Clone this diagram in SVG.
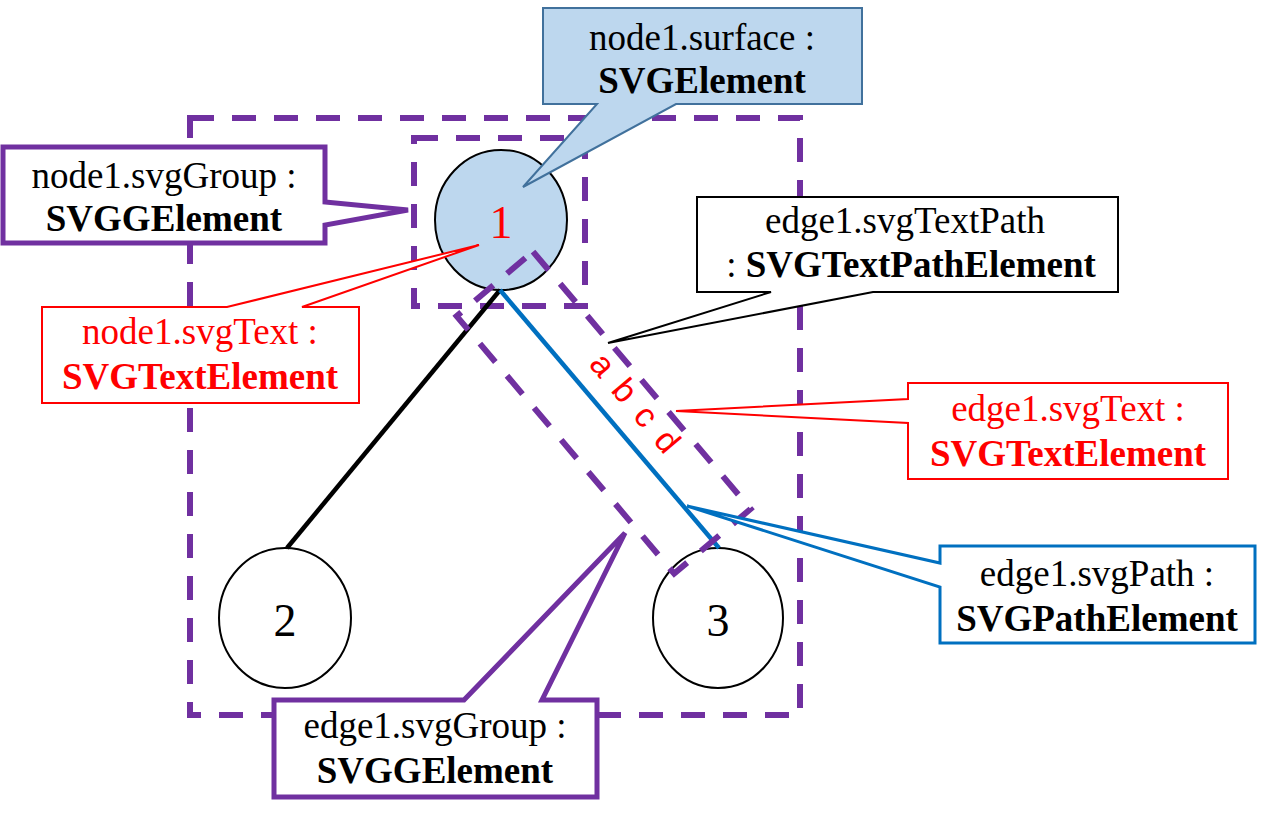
<svg xmlns="http://www.w3.org/2000/svg" width="1263" height="816" viewBox="0 0 1263 816">
<style>
.grp{fill:none;stroke:#7030A0;stroke-width:6;stroke-dasharray:24 18}
.node{stroke:#000;stroke-width:2}
.lbl{font-family:"Liberation Serif","Times New Roman",serif;font-size:37px;text-anchor:middle}
.num{font-family:"Liberation Serif","Times New Roman",serif;font-size:46px;text-anchor:middle}
.b{font-weight:bold}
.red{fill:#FF0000}
.blk{fill:#000}
</style>
<rect width="1263" height="816" fill="#fff"/>
<g id="groups">
<rect id="outerGroup" class="grp" x="190" y="118" width="610" height="597"/>
<rect id="node1Group" class="grp" x="414" y="138" width="171" height="168"/>
</g>
<g id="node1">
<ellipse class="node" cx="501" cy="220" rx="66" ry="70" fill="#BDD7EE"/>
<text class="num red" x="501" y="238">1</text>
</g>
<g id="node2">
<ellipse class="node" cx="285" cy="618" rx="66" ry="70" fill="#fff"/>
<text class="num blk" x="285" y="636">2</text>
</g>
<g id="node3">
<ellipse class="node" cx="718" cy="618" rx="65" ry="70" fill="#fff"/>
<text class="num blk" x="718" y="636">3</text>
</g>
<g id="connectors">
<line x1="500" y1="290" x2="287" y2="548" stroke="#000" stroke-width="4.5"/>
<line x1="500" y1="290" x2="719" y2="548" stroke="#0070C0" stroke-width="4.5"/>
</g>
<g id="edge1Group">
<rect class="grp" x="-8" y="-50" width="337" height="100" transform="translate(500,290) rotate(49.8)"/>
<text transform="translate(500,290) rotate(49.8)" x="114" y="-19" font-family="'Liberation Sans',Arial,sans-serif" font-size="34" letter-spacing="2.8" fill="#FF0000">a b c d</text>
</g>
<g id="callout-surface">
<path d="M543,8 H862 V104 H676 L523,187 L597,104 H543 Z" fill="#BDD7EE" stroke="#41719C" stroke-width="2"/>
<text class="lbl blk" x="702" y="50">node1.surface :</text>
<text class="lbl blk b" x="702" y="93">SVGElement</text>
</g>
<g id="callout-node1-svgGroup">
<path d="M3,147 H325 V202 L408,210 L325,225 V243 H3 Z" fill="#fff" stroke="#7030A0" stroke-width="5"/>
<text class="lbl blk" x="164" y="188">node1.svgGroup :</text>
<text class="lbl blk b" x="164" y="231">SVGGElement</text>
</g>
<g id="callout-node1-svgText">
<path d="M42,307 H227 L479,245 L302,307 H359 V403 H42 Z" fill="#fff" stroke="#FF0000" stroke-width="2"/>
<text class="lbl red" x="200" y="344">node1.svgText :</text>
<text class="lbl red b" x="200" y="389">SVGTextElement</text>
</g>
<g id="callout-edge1-svgTextPath">
<path d="M697,197 H1118 V292 H873 L608,343 L771,292 H697 Z" fill="#fff" stroke="#000" stroke-width="2"/>
<text class="lbl blk" x="905" y="233">edge1.svgTextPath</text>
<text class="lbl blk" x="911" y="277">: <tspan class="b">SVGTextPathElement</tspan></text>
</g>
<g id="callout-edge1-svgText">
<path d="M908,383 H1228 V479 H908 V423 L676,411 L908,399 Z" fill="#fff" stroke="#FF0000" stroke-width="2"/>
<text class="lbl red" x="1068" y="421">edge1.svgText :</text>
<text class="lbl red b" x="1068" y="466">SVGTextElement</text>
</g>
<g id="callout-edge1-svgPath">
<path d="M940,546 H1255 V643 H940 V587 L687,506 L940,563 Z" fill="#fff" stroke="#0070C0" stroke-width="3"/>
<text class="lbl blk" x="1097" y="586">edge1.svgPath :</text>
<text class="lbl blk b" x="1097" y="631">SVGPathElement</text>
</g>
<g id="callout-edge1-svgGroup">
<path d="M274,700 H464 L625,533 L542,700 H597 V797 H274 Z" fill="#fff" stroke="#7030A0" stroke-width="5"/>
<text class="lbl blk" x="435" y="738">edge1.svgGroup :</text>
<text class="lbl blk b" x="435" y="783">SVGGElement</text>
</g>
</svg>
